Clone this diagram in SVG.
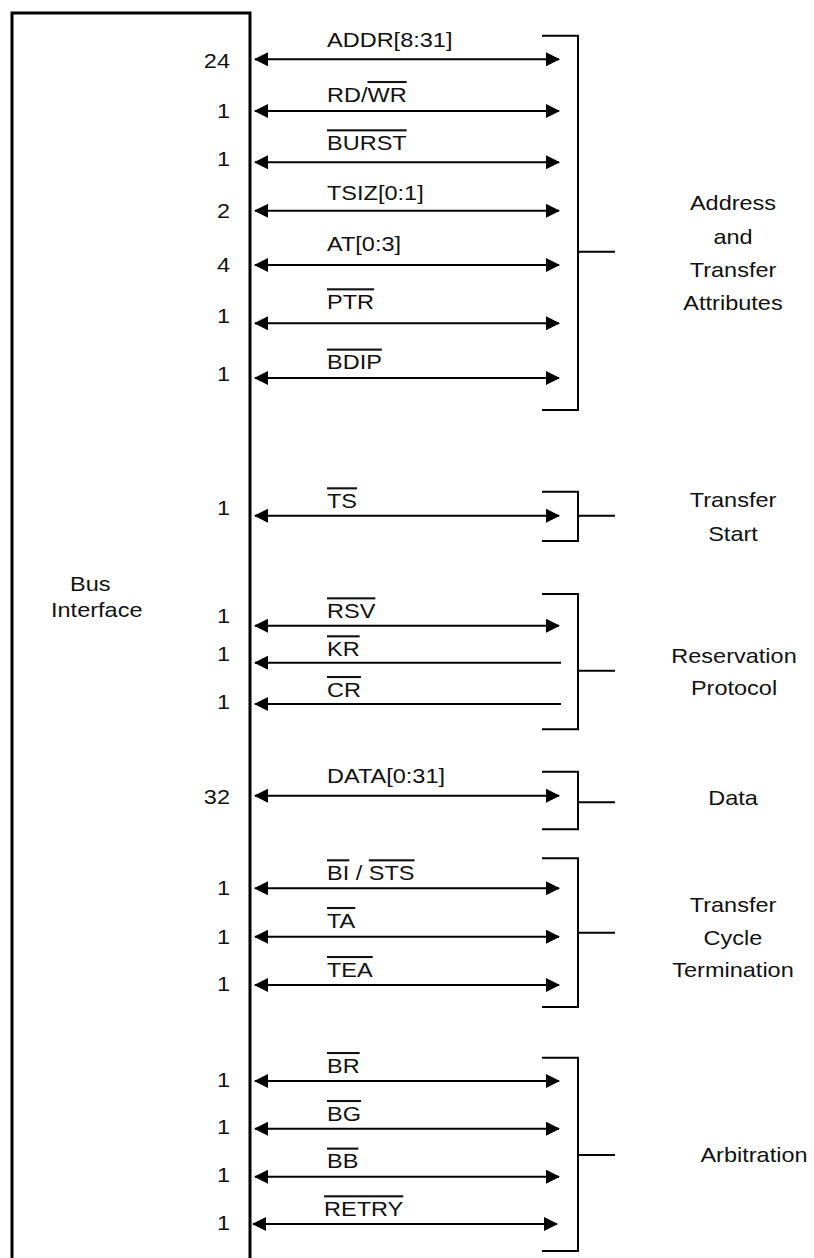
<svg xmlns="http://www.w3.org/2000/svg" width="814" height="1258" viewBox="0 0 814 1258">
<style>
  text { font-family: "Liberation Sans", Arial, Helvetica, sans-serif; font-size: 21px; fill: #111; }
  .num { text-anchor: end; }
  .mid { text-anchor: middle; }
  .ov { text-decoration: overline; }
  .box { fill: none; stroke: #000; stroke-width: 3; }
  .sig { stroke: #000; stroke-width: 2; fill: none; }
  .bi { marker-start: url(#ah); marker-end: url(#ah); }
  .in { marker-start: url(#ah); }
  .br { fill: none; stroke: #000; stroke-width: 2; }
</style>
<defs>
  <marker id="ah" markerUnits="userSpaceOnUse" markerWidth="14" markerHeight="14" refX="13" refY="7" orient="auto-start-reverse">
    <path d="M0,0 L14,7 L0,14 Z" fill="#000"/>
  </marker>
</defs>
<rect width="814" height="1258" fill="#fff"/>

<g id="bus-interface">
  <path class="box" d="M12,1260 V13 H250 V1260"/>
  <text transform="translate(70,590.7) scale(1.12,1)">Bus</text>
  <text transform="translate(51,616.7) scale(1.12,1)">Interface</text>
</g>

<g id="connectors">
  <line class="sig bi" x1="255" y1="59.3" x2="559" y2="59.3"/>
  <line class="sig bi" x1="255" y1="111" x2="559" y2="111"/>
  <line class="sig bi" x1="255" y1="162.3" x2="559" y2="162.3"/>
  <line class="sig bi" x1="255" y1="210.8" x2="559" y2="210.8"/>
  <line class="sig bi" x1="255" y1="265" x2="559" y2="265"/>
  <line class="sig bi" x1="255" y1="323.3" x2="559" y2="323.3"/>
  <line class="sig bi" x1="255" y1="378" x2="559" y2="378"/>
  <line class="sig bi" x1="255" y1="515.7" x2="559" y2="515.7"/>
  <line class="sig bi" x1="255" y1="625.7" x2="559" y2="625.7"/>
  <line class="sig in" x1="255" y1="662.7" x2="561" y2="662.7"/>
  <line class="sig in" x1="255" y1="704" x2="561" y2="704"/>
  <line class="sig bi" x1="255" y1="795.7" x2="559" y2="795.7"/>
  <line class="sig bi" x1="255" y1="888.3" x2="559" y2="888.3"/>
  <line class="sig bi" x1="255" y1="936.7" x2="559" y2="936.7"/>
  <line class="sig bi" x1="255" y1="985" x2="559" y2="985"/>
  <line class="sig bi" x1="255" y1="1081" x2="559" y2="1081"/>
  <line class="sig bi" x1="255" y1="1128.7" x2="559" y2="1128.7"/>
  <line class="sig bi" x1="255" y1="1176.7" x2="559" y2="1176.7"/>
  <line class="sig bi" x1="253" y1="1224" x2="557" y2="1224"/>
</g>

<g id="signal-labels">
  <text transform="translate(327,47) scale(1.12,1)">ADDR[8:31]</text>
  <text transform="translate(327,101.7) scale(1.12,1)">RD/<tspan class="ov">WR</tspan></text>
  <text transform="translate(327,150) scale(1.12,1)"><tspan class="ov">BURST</tspan></text>
  <text transform="translate(327,199.5) scale(1.12,1)">TSIZ[0:1]</text>
  <text transform="translate(327,251) scale(1.12,1)">AT[0:3]</text>
  <text transform="translate(327,309) scale(1.12,1)"><tspan class="ov">PTR</tspan></text>
  <text transform="translate(327,369.3) scale(1.12,1)"><tspan class="ov">BDIP</tspan></text>
  <text transform="translate(327,508) scale(1.12,1)"><tspan class="ov">TS</tspan></text>
  <text transform="translate(327,618) scale(1.12,1)"><tspan class="ov">RSV</tspan></text>
  <text transform="translate(327,656) scale(1.12,1)"><tspan class="ov">KR</tspan></text>
  <text transform="translate(327,696.7) scale(1.12,1)"><tspan class="ov">CR</tspan></text>
  <text transform="translate(327,783.3) scale(1.12,1)">DATA[0:31]</text>
  <text transform="translate(327,880) scale(1.12,1)"><tspan class="ov">BI</tspan> / <tspan class="ov">STS</tspan></text>
  <text transform="translate(327,927.7) scale(1.12,1)"><tspan class="ov">TA</tspan></text>
  <text transform="translate(327,976.7) scale(1.12,1)"><tspan class="ov">TEA</tspan></text>
  <text transform="translate(327,1072.7) scale(1.12,1)"><tspan class="ov">BR</tspan></text>
  <text transform="translate(327,1120.7) scale(1.12,1)"><tspan class="ov">BG</tspan></text>
  <text transform="translate(327,1168.3) scale(1.12,1)"><tspan class="ov">BB</tspan></text>
  <text transform="translate(324,1216) scale(1.12,1)"><tspan class="ov">RETRY</tspan></text>

  <text class="num" transform="translate(230,68) scale(1.12,1)">24</text>
  <text class="num" transform="translate(230,118.3) scale(1.12,1)">1</text>
  <text class="num" transform="translate(230,166) scale(1.12,1)">1</text>
  <text class="num" transform="translate(230,217.5) scale(1.12,1)">2</text>
  <text class="num" transform="translate(230,272) scale(1.12,1)">4</text>
  <text class="num" transform="translate(230,323) scale(1.12,1)">1</text>
  <text class="num" transform="translate(230,381) scale(1.12,1)">1</text>
  <text class="num" transform="translate(230,515.3) scale(1.12,1)">1</text>
  <text class="num" transform="translate(230,622.5) scale(1.12,1)">1</text>
  <text class="num" transform="translate(230,661.3) scale(1.12,1)">1</text>
  <text class="num" transform="translate(230,709.3) scale(1.12,1)">1</text>
  <text class="num" transform="translate(230,803.5) scale(1.12,1)">32</text>
  <text class="num" transform="translate(230,894.8) scale(1.12,1)">1</text>
  <text class="num" transform="translate(230,943.5) scale(1.12,1)">1</text>
  <text class="num" transform="translate(230,991) scale(1.12,1)">1</text>
  <text class="num" transform="translate(230,1086.6) scale(1.12,1)">1</text>
  <text class="num" transform="translate(230,1134.2) scale(1.12,1)">1</text>
  <text class="num" transform="translate(230,1182.3) scale(1.12,1)">1</text>
  <text class="num" transform="translate(230,1230.2) scale(1.12,1)">1</text>
</g>

<g id="group-address">
  <path class="br" d="M542,35.7 H578 V410 H542 M578,251.7 H615"/>
  <text class="mid" transform="translate(733,210) scale(1.12,1)">Address</text>
  <text class="mid" transform="translate(733,243.5) scale(1.12,1)">and</text>
  <text class="mid" transform="translate(733,277) scale(1.12,1)">Transfer</text>
  <text class="mid" transform="translate(733,310) scale(1.12,1)">Attributes</text>
</g>

<g id="group-transfer-start">
  <path class="br" d="M542,491.7 H578 V541 H542 M578,515.7 H615"/>
  <text class="mid" transform="translate(733,507) scale(1.12,1)">Transfer</text>
  <text class="mid" transform="translate(733,540.7) scale(1.12,1)">Start</text>
</g>

<g id="group-reservation">
  <path class="br" d="M542,594 H578 V729.3 H542 M578,670.7 H615"/>
  <text class="mid" transform="translate(734,662.7) scale(1.12,1)">Reservation</text>
  <text class="mid" transform="translate(734,695) scale(1.12,1)">Protocol</text>
</g>

<g id="group-data">
  <path class="br" d="M542,771.7 H578 V829.3 H542 M578,802.3 H615"/>
  <text class="mid" transform="translate(733,805) scale(1.12,1)">Data</text>
</g>

<g id="group-termination">
  <path class="br" d="M542,858.3 H578 V1007 H542 M578,932.7 H615"/>
  <text class="mid" transform="translate(733,912.3) scale(1.12,1)">Transfer</text>
  <text class="mid" transform="translate(733,945) scale(1.12,1)">Cycle</text>
  <text class="mid" transform="translate(733,976.7) scale(1.12,1)">Termination</text>
</g>

<g id="group-arbitration">
  <path class="br" d="M542,1057.7 H578 V1251 H542 M578,1155 H615"/>
  <text class="mid" transform="translate(754,1162) scale(1.12,1)">Arbitration</text>
</g>
</svg>
